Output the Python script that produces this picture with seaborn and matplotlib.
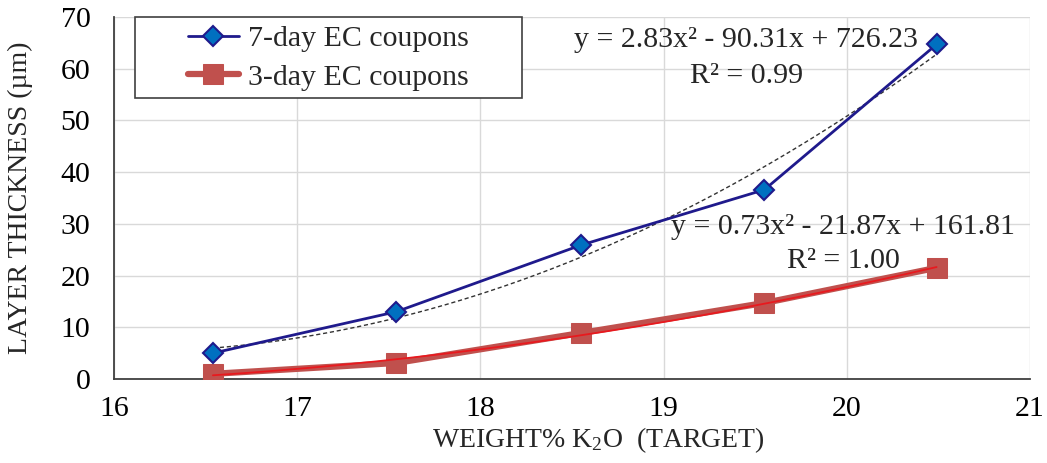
import numpy as np
import pandas as pd
import matplotlib
matplotlib.use("Agg")
import matplotlib.pyplot as plt
import matplotlib.patches as mpatches
import seaborn as sns

k2o = [16.54, 17.54, 18.55, 19.55, 20.49]
day7 = [5.0, 13.0, 25.9, 36.6, 64.7]
day3 = [1.0, 3.1, 8.9, 14.7, 21.5]
labels = ["7-day EC coupons", "3-day EC coupons"]
eq7 = ["y = 2.83x² - 90.31x + 726.23", "R² = 0.99"]
eq3 = ["y = 0.73x² - 21.87x + 161.81", "R² = 1.00"]
xticks = [16, 17, 18, 19, 20, 21]
yticks = [0, 10, 20, 30, 40, 50, 60, 70]

sns.set_theme(style="whitegrid")
plt.rcParams['font.family'] = ['Liberation Serif', 'DejaVu Serif']
plt.rcParams['mathtext.fontset'] = 'custom'
plt.rcParams['mathtext.rm'] = 'Liberation Serif'
plt.rcParams['mathtext.it'] = 'Liberation Serif'

FS = 21.5

W, H = 1047, 463
fig = plt.figure(figsize=(W/100, H/100), dpi=100)
ax = fig.add_axes([114/W, 1-379/H, (1030-114)/W, (379-17)/H])

def ax_x(px):
    return (px-114)/916

def ax_y(py):
    return (379-py)/362

df = pd.DataFrame({"x": k2o, "d7": day7, "d3": day3})

xs = np.linspace(k2o[0], k2o[-1], 200)
p7 = np.polyfit(k2o, day7, 2)
p3 = np.polyfit(k2o, day3, 2)

sns.lineplot(data=df, x="x", y="d3", ax=ax, color="#C0504D", lw=4.5,
             marker="s", markersize=14, markeredgecolor="#C0504D",
             markerfacecolor="#C0504D", label=labels[1], zorder=3)
ax.plot(xs, np.polyval(p3, xs), color="#E8191E", lw=1.3, zorder=4)

sns.lineplot(data=df, x="x", y="d7", ax=ax, color="#1F1A8C", lw=2,
             marker="D", markersize=10, markeredgecolor="#1F1A8C",
             markerfacecolor="#0070C0", markeredgewidth=1.5,
             label=labels[0], zorder=5)
ax.plot(xs, np.polyval(p7, xs), color="#333333", lw=1, ls=(0, (3, 2)), zorder=4)

ax.set_xlim(16, 21)
ax.set_ylim(0, 70)
ax.set_xticks(xticks)
ax.set_yticks(yticks)
ax.tick_params(axis="both", labelsize=FS, length=0, colors="#000000")
ax.tick_params(axis="x", pad=12)
ax.tick_params(axis="y", pad=17)
ax.grid(True, color="#D9D9D9", lw=1)
for s in ["top", "right"]:
    ax.spines[s].set_visible(False)
for s in ["left", "bottom"]:
    ax.spines[s].set_visible(True)
    ax.spines[s].set_color("#404040")
    ax.spines[s].set_linewidth(1.3)

ax.set_xlabel("WEIGHT% K$_{2}$O  (TARGET)", fontsize=20)
ax.set_ylabel("LAYER THICKNESS (µm)", fontsize=20)
ax.xaxis.set_label_coords(ax_x(598), ax_y(440))
ax.xaxis.label.set_va("center")
ax.yaxis.set_label_coords(ax_x(20), 0.5)
ax.yaxis.label.set_va("center")

# legend frame box
box = mpatches.Rectangle((ax_x(135), ax_y(98)), ax_x(522)-ax_x(135),
                         ax_y(17)-ax_y(98), transform=ax.transAxes,
                         facecolor="white", edgecolor="#404040", lw=1.2,
                         zorder=8, clip_on=False)
ax.add_patch(box)

h, l = ax.get_legend_handles_labels()
order = [l.index(labels[0]), l.index(labels[1])]
leg = ax.legend([h[i] for i in order], [l[i] for i in order],
                loc="center left", bbox_to_anchor=(ax_x(188), ax_y(58)),
                fontsize=FS, frameon=False, borderpad=0,
                handlelength=1.7, handletextpad=0.3, labelspacing=0.4,
                borderaxespad=0)
leg.set_zorder(9)

ax.text(ax_x(746), ax_y(40), eq7[0], transform=ax.transAxes,
        ha="center", va="center", fontsize=FS, zorder=10)
ax.text(ax_x(747), ax_y(76), eq7[1], transform=ax.transAxes,
        ha="center", va="center", fontsize=FS, zorder=10)
ax.text(ax_x(843), ax_y(227), eq3[0], transform=ax.transAxes,
        ha="center", va="center", fontsize=FS, zorder=10)
ax.text(ax_x(843), ax_y(261), eq3[1], transform=ax.transAxes,
        ha="center", va="center", fontsize=FS, zorder=10)

fig.savefig("out.png", dpi=100)
